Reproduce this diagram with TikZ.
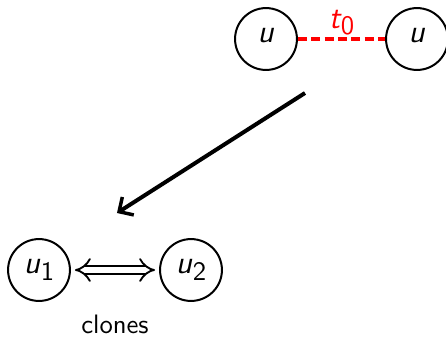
\documentclass[tikz,border=0pt]{standalone}
\usetikzlibrary{arrows.meta}
\renewcommand{\familydefault}{\sfdefault}
% italic variable with an upright subscript, all in sans
\newcommand{\svar}[2]{{\itshape #1}\kern0.3pt\raisebox{-0.45ex}{\normalsize\upshape #2}}
\begin{document}
\begin{tikzpicture}[x=0.375pt,y=-0.375pt,
  vertex/.style={circle,draw,line width=0.75pt,minimum size=23.2pt,inner sep=0pt,font=\sffamily\large},
  redlink/.style={red,line width=1.2pt,dash pattern=on 3.4pt off 1.6pt},
  bigarrow/.style={line width=1.5pt,-{Straight Barb[length=4pt,width=8pt,line width=1.3pt]}},
  clonelink/.style={double,double distance=2.4pt,line width=0.7pt,shorten <=1.5pt,shorten >=1.5pt,
    {Implies[scale=1.4]}-{Implies[scale=1.4]}}]
  \useasboundingbox (0,0) rectangle (446,338);
  % original pair joined at time t0
  \node[vertex] (ua) at (266,39) {\svar{u}{}};
  \node[vertex] (ub) at (417,39) {\svar{u}{}};
  \draw[redlink] (ua) -- node[above=-2.5pt,font=\sffamily\large,text=red] (t0) {\svar{t}{0}} (ub);
  % transformation arrow
  \coordinate (from) at (305,93);
  \coordinate (to) at (117,213);
  \draw[bigarrow] (from) -- (to);
  % the two clones
  \node[vertex] (u1) at (39,270) {\svar{u}{1}};
  \node[vertex] (u2) at (191,270) {\svar{u}{2}};
  \draw[clonelink] (u1) -- (u2);
  \node[font=\sffamily] (cl) at (115,324) {clones};
\end{tikzpicture}
\end{document}
